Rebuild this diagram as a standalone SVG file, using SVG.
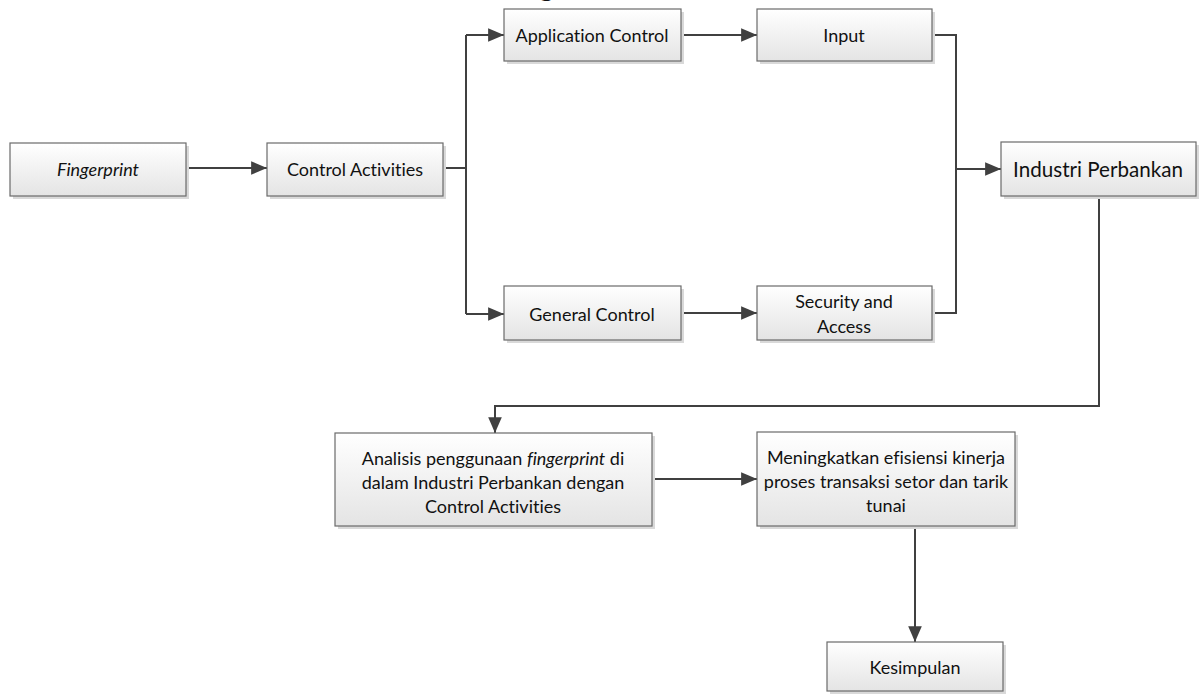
<svg xmlns="http://www.w3.org/2000/svg" width="1202" height="694" viewBox="0 0 1202 694">
<defs>
<linearGradient id="g" x1="0" y1="0" x2="0" y2="1">
<stop offset="0" stop-color="#ffffff"/>
<stop offset="1" stop-color="#e4e4e4"/>
</linearGradient>
<marker id="a" viewBox="0 0 14 12" refX="14" refY="6" markerWidth="8" markerHeight="6.8" orient="auto" markerUnits="strokeWidth">
<path d="M0,0 L14,6 L0,12 z" fill="#404040"/>
</marker>
<style>
.box{fill:url(#g);stroke:#6a6a6a;stroke-width:1.2}
.sh{fill:#d9d9d9}
.t{font-family:"Lato","Open Sans","Liberation Sans",sans-serif;font-size:18px;fill:#111;text-anchor:middle;dominant-baseline:central;font-variant-ligatures:none}
.big{font-size:20.6px}
.c{fill:none;stroke:#404040;stroke-width:2}
.ar{marker-end:url(#a)}
</style>
</defs>
<rect width="1202" height="694" fill="#ffffff"/>
<text x="540" y="-4" font-family="Liberation Serif, serif" font-weight="bold" font-size="26" fill="#111">g</text>
<g id="connectors">
<path class="c ar" d="M186,168 H267"/>
<path class="c" d="M443,168 H466"/>
<path class="c" d="M466,35 V314"/>
<path class="c ar" d="M466,35 H504"/>
<path class="c ar" d="M466,314 H504"/>
<path class="c ar" d="M681,35 H757"/>
<path class="c ar" d="M681,313 H757"/>
<path class="c" d="M932,35 H956 V313 H932"/>
<path class="c ar" d="M956,169 H1001"/>
<path class="c ar" d="M1099,196 V406 H495 V433"/>
<path class="c ar" d="M652,479 H757"/>
<path class="c ar" d="M915,526 V642"/>
</g>
<g id="n-fingerprint">
<rect class="sh" x="13" y="146" width="176" height="53"/>
<rect class="box" x="10" y="143" width="176" height="53"/>
<text class="t" x="98" y="169" font-style="italic">Fingerprint</text>
</g>
<g id="n-control-activities">
<rect class="sh" x="270" y="146" width="176" height="53"/>
<rect class="box" x="267" y="143" width="176" height="53"/>
<text class="t" x="355" y="169">Control Activities</text>
</g>
<g id="n-application-control">
<rect class="sh" x="507" y="12" width="177" height="52"/>
<rect class="box" x="504" y="9" width="177" height="52"/>
<text class="t" x="592" y="35">Application Control</text>
</g>
<g id="n-input">
<rect class="sh" x="760" y="12" width="175" height="52"/>
<rect class="box" x="757" y="9" width="175" height="52"/>
<text class="t" x="844" y="35">Input</text>
</g>
<g id="n-general-control">
<rect class="sh" x="507" y="289" width="177" height="54"/>
<rect class="box" x="504" y="286" width="177" height="54"/>
<text class="t" x="592" y="314">General Control</text>
</g>
<g id="n-security">
<rect class="sh" x="760" y="289" width="175" height="54"/>
<rect class="box" x="757" y="286" width="175" height="54"/>
<text class="t" x="844" y="301">Security and</text>
<text class="t" x="844" y="326">Access</text>
</g>
<g id="n-industri">
<rect class="sh" x="1004" y="145" width="195" height="54"/>
<rect class="box" x="1001" y="142" width="195" height="54"/>
<text class="t big" x="1098" y="169">Industri Perbankan</text>
</g>
<g id="n-analisis">
<rect class="sh" x="338" y="436" width="317" height="93"/>
<rect class="box" x="335" y="433" width="317" height="93"/>
<text class="t" x="493" y="458">Analisis penggunaan <tspan font-style="italic">fingerprint</tspan> di</text>
<text class="t" x="493" y="482">dalam Industri Perbankan dengan</text>
<text class="t" x="493" y="506">Control Activities</text>
</g>
<g id="n-meningkatkan">
<rect class="sh" x="760" y="435" width="258" height="94"/>
<rect class="box" x="757" y="432" width="258" height="94"/>
<text class="t" x="886" y="457">Meningkatkan efisiensi kinerja</text>
<text class="t" x="886" y="481">proses transaksi setor dan tarik</text>
<text class="t" x="886" y="505">tunai</text>
</g>
<g id="n-kesimpulan">
<rect class="sh" x="830" y="645" width="176" height="49"/>
<rect class="box" x="827" y="642" width="176" height="49"/>
<text class="t" x="915" y="667">Kesimpulan</text>
</g>
</svg>
